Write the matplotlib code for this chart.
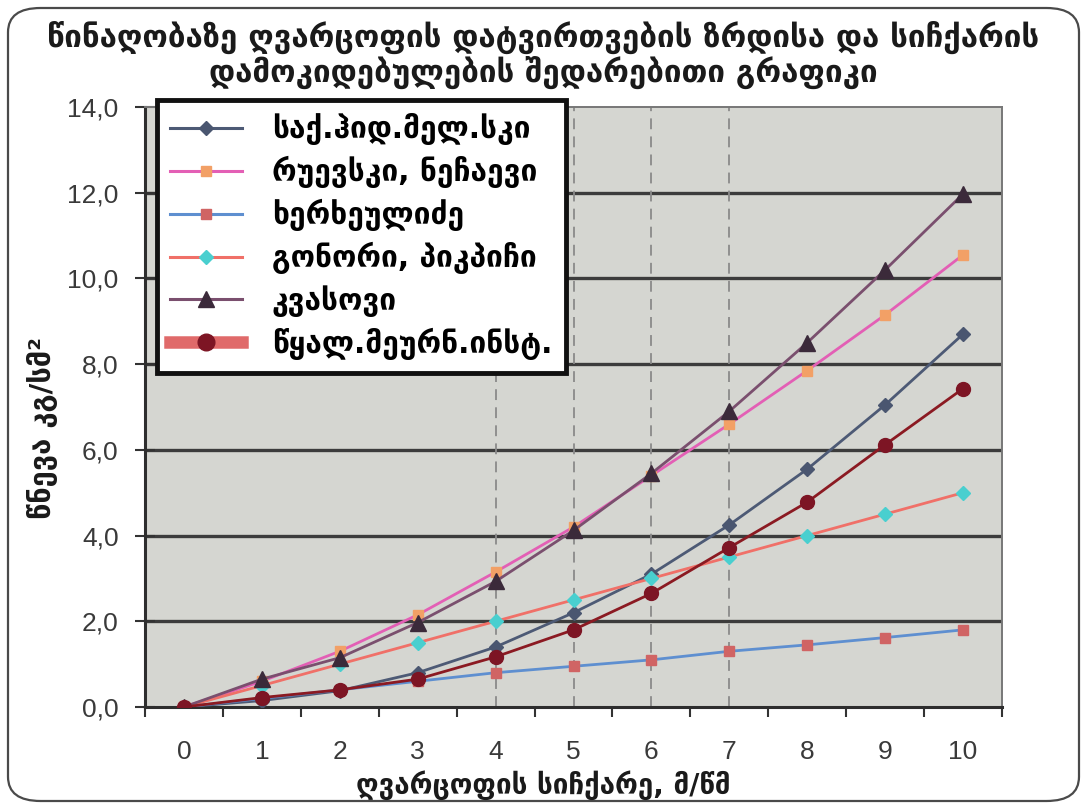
import matplotlib
matplotlib.use("Agg")
import matplotlib.pyplot as plt
from matplotlib.lines import Line2D
from matplotlib.patches import FancyBboxPatch

# ---- data ----
x_vals = [0, 1, 2, 3, 4, 5, 6, 7, 8, 9, 10]
s_sak = [0, 0.15, 0.38, 0.8, 1.4, 2.2, 3.1, 4.25, 5.55, 7.05, 8.7]
s_ruev = [0, 0.6, 1.3, 2.15, 3.15, 4.2, 5.4, 6.6, 7.85, 9.15, 10.55]
s_kherkh = [0, 0.2, 0.4, 0.6, 0.8, 0.95, 1.1, 1.3, 1.45, 1.62, 1.8]
s_gonor = [0, 0.5, 1.0, 1.5, 2.0, 2.5, 3.0, 3.5, 4.0, 4.5, 5.0]
s_kvas = [0, 0.65, 1.15, 1.97, 2.93, 4.12, 5.45, 6.9, 8.5, 10.2, 11.97]
s_tsqal = [0, 0.22, 0.4, 0.65, 1.17, 1.8, 2.65, 3.72, 4.78, 6.12, 7.43]
labels = ["საქ.ჰიდ.მელ.სკი", "რუევსკი, ნეჩაევი", "ხერხეულიძე",
          "გონორი, პიკპიჩი", "კვასოვი", "წყალ.მეურნ.ინსტ."]
y_ticks = [0, 2, 4, 6, 8, 10, 12, 14]
y_ticklabels = ["0,0", "2,0", "4,0", "6,0", "8,0", "10,0", "12,0", "14,0"]
dashed_x = [4, 5, 6, 7]
title = "წინაღობაზე ღვარცოფის დატვირთვების ზრდისა და სიჩქარის\nდამოკიდებულების შედარებითი გრაფიკი"
xlabel = "ღვარცოფის სიჩქარე, მ/წმ"
ylabel = "წნევა კგ/სმ²"

W, H = 1087, 809
fig = plt.figure(figsize=(W / 100, H / 100), dpi=100)
fig.patch.set_facecolor("white")

# rounded outer frame
frame = FancyBboxPatch((8 / W, 8 / H), 1 - 16 / W, 1 - 16 / H,
                       boxstyle="round,pad=0,rounding_size=0.03",
                       transform=fig.transFigure, fill=False,
                       edgecolor="#4a4a4a", lw=1.6, zorder=0)
fig.patches.append(frame)

L, R, T, B = 145, 1002, 107, 707
ax = fig.add_axes([L / W, 1 - B / H, (R - L) / W, (B - T) / H])
ax.set_facecolor("#d5d6d1")
ax.set_xlim(-0.5, 10.5)
ax.set_ylim(0, 14)

for yv in y_ticks[1:-1]:
    ax.axhline(yv, color="#3c3c3c", lw=2.4, zorder=1)
for xv in dashed_x:
    ax.axvline(xv, color="#8a8a8a", lw=1.3, ls=(0, (6, 4)), zorder=1)

series = [
    (s_sak, "#4d5a75", "D", "#4a5670", 7),
    (s_ruev, "#e35fb5", "s", "#f2a066", 7),
    (s_kherkh, "#5e8fd0", "s", "#d06464", 7),
    (s_gonor, "#f07068", "D", "#49cfcf", 7),
    (s_kvas, "#7a4f6e", "^", "#3b2a3a", 11),
    (s_tsqal, "#8b1a22", "o", "#7d1524", 10),
]
handles = []
for (ys, lc, mk, mc, ms), lab in zip(series, labels):
    ax.plot(x_vals, ys, color=lc, lw=2.0, marker=mk, markersize=ms,
            markerfacecolor=mc, markeredgecolor=mc, zorder=3)
    if mk == "o":
        h = Line2D([], [], color="#e06a6a", lw=9, marker=mk, markersize=ms + 2,
                   markerfacecolor=mc, markeredgecolor=mc)
    else:
        h = Line2D([], [], color=lc, lw=2.2, marker=mk, markersize=ms,
                   markerfacecolor=mc, markeredgecolor=mc)
    handles.append(h)

ax.set_xticks([i - 0.5 for i in range(12)])
ax.set_xticklabels([])
ax.set_xticks(x_vals, minor=True)
ax.set_xticklabels([str(v) for v in x_vals], minor=True)
ax.tick_params(axis="x", which="major", direction="out", length=7, width=1.5, color="#333333")
ax.tick_params(axis="x", which="minor", length=0, pad=24, labelsize=19,
               labelcolor="#3a3a3a")
ax.set_yticks(y_ticks)
ax.set_yticklabels(y_ticklabels)
ax.tick_params(axis="y", direction="inout", length=14, width=1.5, color="#333333",
               labelsize=19, labelcolor="#3a3a3a", pad=12)
for lbl in ax.get_xticklabels(minor=True) + ax.get_yticklabels():
    lbl.set_fontfamily("Liberation Sans")

for side in ["top", "right"]:
    ax.spines[side].set_color("#777777")
    ax.spines[side].set_linewidth(1.4)
ax.spines["left"].set_color("#2e2e2e")
ax.spines["left"].set_linewidth(2.2)
ax.spines["bottom"].set_color("#2e2e2e")
ax.spines["bottom"].set_linewidth(2.2)

leg = fig.legend(handles, labels, loc="upper left",
                 bbox_to_anchor=(157 / W, 1 - 100 / H),
                 frameon=True, fancybox=False,
                 handlelength=2.4, handletextpad=1.0, labelspacing=0.36,
                 borderpad=0.45, borderaxespad=0,
                 prop={"family": "DejaVu Sans", "weight": "bold", "size": 21.5})
leg.get_frame().set_edgecolor("#111111")
leg.get_frame().set_linewidth(3.5)
leg.get_frame().set_facecolor("white")
leg.get_frame().set_alpha(1)
leg.set_zorder(10)

fig.text(0.5, 1 - 55 / H, title, ha="center", va="center", fontsize=22.5,
         fontweight="bold", family="DejaVu Sans", color="#1a1a1a", linespacing=1.1)
fig.text(0.5, 1 - 785 / H, xlabel, ha="center", va="center", fontsize=20,
         fontweight="bold", family="DejaVu Sans", color="#1a1a1a")
fig.text(42 / W, 1 - 428 / H, ylabel, ha="center", va="center", rotation=90,
         fontsize=21, fontweight="bold", family="DejaVu Sans", color="#1a1a1a")

fig.savefig("out.png", dpi=100)
